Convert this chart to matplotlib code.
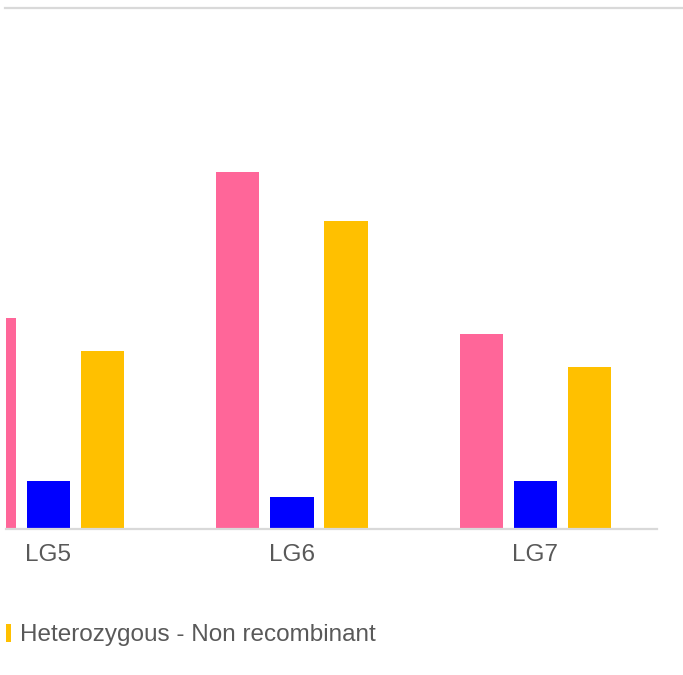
import matplotlib.pyplot as plt
import numpy as np

plt.rcParams['font.family'] = ['Liberation Sans', 'DejaVu Sans']

# Data (relative heights, top gridline = 100)
groups = ['LG5', 'LG6', 'LG7']
homozygous = [40.5, 68.5, 37.4]
recombinant = [9.2, 6.1, 9.2]
het_non_recomb = [34.2, 59.1, 31.1]

pink = '#ff6699'
blue = '#0000ff'
yellow = '#ffc000'
grey = '#d9d9d9'
text_col = '#595959'

fig = plt.figure(figsize=(6.83, 6.75), dpi=100)
ax = fig.add_axes([6 / 683, 146 / 675, 651 / 683, 521 / 675])

x = np.arange(len(groups))
w = 0.177
off = 0.222
ax.bar(x - off, homozygous, w, color=pink)
ax.bar(x, recombinant, w, color=blue)
bars = ax.bar(x + off, het_non_recomb, w, color=yellow,
              label='Heterozygous - Non recombinant')

ax.set_xlim(-0.1745, 2.499)
ax.set_ylim(0, 100)
ax.set_xticks(x)
ax.set_xticklabels(groups, fontsize=17.5, color=text_col)
ax.tick_params(axis='x', length=0, pad=11)
ax.set_yticks([])
for s in ['top', 'left', 'right']:
    ax.spines[s].set_visible(False)
ax.spines['bottom'].set_color(grey)
ax.spines['bottom'].set_linewidth(1.6)

# top gridline runs across the whole width
fig.add_artist(plt.Line2D([5 / 683, 1.0], [667 / 675, 667 / 675],
                          color=grey, linewidth=1.6))

leg = fig.legend(handles=[bars], loc='center left',
                 bbox_to_anchor=(6 / 683, 40 / 675), frameon=False,
                 fontsize=17.5, handlelength=0.2, handleheight=0.8,
                 handletextpad=0.37, borderaxespad=0, borderpad=0)
for t in leg.get_texts():
    t.set_color(text_col)

fig.savefig('out.png', dpi=100)
